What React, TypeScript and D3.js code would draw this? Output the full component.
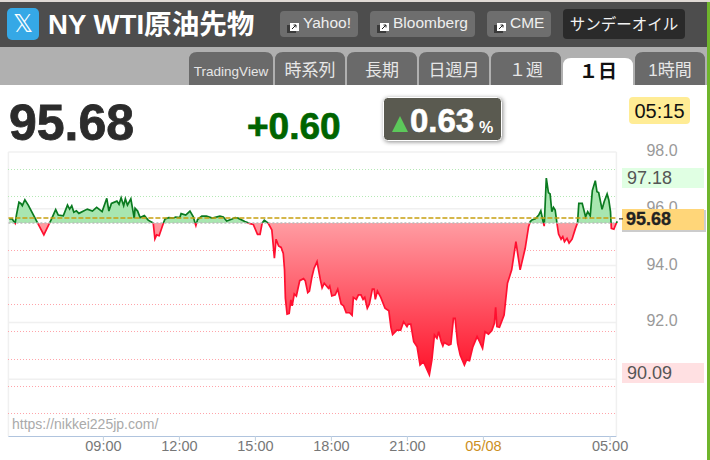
import React from 'react';
import * as d3 from 'd3';

// minutes since 00:00 on 05/07
const minutes = [
  317, 324, 331, 334, 340, 345, 348, 354, 362, 399, 417, 427, 433, 445, 455, 460, 465, 470, 476, 482,
  502, 514, 524, 537, 548, 553, 559, 572, 577, 582, 588, 592, 597, 605, 613, 615, 621, 627, 637, 646,
  658, 662, 666, 672, 682, 686, 695, 705, 711, 721, 724, 735, 745, 753, 757, 759, 763, 773, 784, 798,
  816, 824, 832, 845, 852, 859, 875, 887, 895, 905, 911, 916, 921, 930, 937, 939, 945, 949, 955, 961,
  966, 969, 971, 975, 980, 984, 987, 992, 997, 1005, 1014, 1018, 1024, 1028, 1034, 1039, 1046, 1054, 1058, 1063,
  1073, 1076, 1081, 1089, 1095, 1103, 1109, 1115, 1123, 1129, 1132, 1139, 1144, 1150, 1155, 1159, 1165, 1170, 1177, 1181,
  1184, 1189, 1197, 1207, 1216, 1221, 1225, 1235, 1244, 1251, 1259, 1262, 1268, 1275, 1283, 1290, 1298, 1312, 1318, 1324,
  1330, 1334, 1340, 1344, 1347, 1358, 1363, 1369, 1373, 1379, 1385, 1395, 1400, 1407, 1415, 1425, 1431, 1438, 1444, 1452,
  1460, 1466, 1469, 1472, 1478, 1489, 1497, 1507, 1517, 1527, 1539, 1547, 1551, 1555, 1563, 1571, 1576, 1582, 1584, 1589,
  1594, 1598, 1602, 1606, 1610, 1614, 1618, 1624, 1628, 1632, 1638, 1643, 1650, 1658, 1663, 1666, 1674, 1682, 1687, 1693,
  1698, 1705, 1709, 1713, 1721, 1726, 1733, 1737, 1741, 1743, 1749, 1753, 1757,
];

const prices = [
  95.64, 95.64, 95.49, 95.78, 96.23, 96.18, 96.11, 96.32, 96.13, 95.08, 95.64, 95.97, 95.78, 95.75, 96.13, 95.99, 96.11, 95.88, 95.93, 95.84,
  95.99, 95.92, 96.05, 95.9, 96.37, 95.92, 96.19, 96.27, 96.16, 96.39, 96.11, 96.35, 96.13, 96.35, 95.67, 96.02, 95.92, 95.69, 95.76, 95.6,
  95.5, 94.94, 95.08, 95.05, 95.49, 95.64, 95.69, 95.67, 95.71, 95.69, 95.83, 95.78, 95.92, 95.72, 95.5, 95.41, 95.62, 95.74, 95.74, 95.67,
  95.74, 95.71, 95.57, 95.64, 95.69, 95.67, 95.55, 95.48, 95.45, 95.1, 95.1, 95.5, 95.6, 95.5, 95.31, 95.25, 94.26, 94.93, 94.69, 94.64,
  94.43, 93.85, 92.85, 92.29, 92.32, 92.79, 92.58, 93.0, 92.93, 93.47, 93.54, 93.47, 93.05, 93.1, 93.61, 93.91, 94.14, 93.49, 93.22, 93.38,
  93.2, 93.28, 92.93, 92.97, 93.17, 92.65, 92.58, 92.34, 92.34, 92.25, 92.88, 92.81, 92.97, 92.97, 92.81, 92.88, 92.5, 92.65, 93.17, 93.17,
  92.81, 93.1, 92.88, 92.5, 92.41, 91.83, 91.57, 91.73, 91.73, 92.02, 91.85, 91.94, 91.94, 91.32, 91.14, 90.5, 90.62, 90.15, 90.68, 91.56,
  91.44, 91.67, 91.32, 91.17, 91.29, 91.2, 91.23, 92.14, 92.14, 91.26, 90.85, 90.5, 90.68, 90.65, 91.14, 91.5, 91.32, 91.09, 91.67, 91.59,
  91.71, 91.97, 92.53, 91.85, 91.83, 92.26, 93.38, 93.85, 94.84, 93.85, 94.61, 95.37, 95.55, 95.61, 95.65, 95.78, 95.93, 95.51, 95.39, 97.08,
  96.57, 96.52, 95.9, 96.05, 95.96, 95.51, 95.11, 94.93, 95.02, 94.84, 94.96, 94.79, 94.93, 95.31, 95.51, 96.19, 96.19, 95.72, 95.9, 95.75,
  96.64, 96.99, 96.6, 96.57, 95.98, 96.25, 96.52, 96.31, 95.9, 95.31, 95.28, 95.43, 95.56,
];

const baseline = 95.5;
const current = 95.68;
const gridValues = [98, 96, 94, 92, 90];
const yLabels = ['98.0', '96.0', '94.0', '92.0'];
const percentUp = [1, 2];
const percentDown = [1, 2, 3, 4, 5, 6, 7];
const timeTicks = [540, 720, 900, 1080, 1260, 1440, 1740];
const timeLabels = ['09:00', '12:00', '15:00', '18:00', '21:00', '05/08', '05:00'];
const linkButtons = [
  { label: 'Yahoo!', x0: 280, x1: 358 },
  { label: 'Bloomberg', x0: 370, x1: 475 },
  { label: 'CME', x0: 487, x1: 551 },
];
const tabs = [
  { label: 'TradingView', x0: 189, x1: 273, size: 13.5 },
  { label: '時系列', x0: 275, x1: 345, size: 17 },
  { label: '長期', x0: 347, x1: 417, size: 17 },
  { label: '日週月', x0: 419, x1: 489, size: 17 },
  { label: '１週', x0: 491, x1: 561, size: 17 },
  { label: '１日', x0: 563, x1: 633, size: 19, active: true },
  { label: '1時間', x0: 635, x1: 705, size: 17 },
];

const sans = '"Liberation Sans", "Noto Sans CJK JP", sans-serif';

export default function App() {
  const x = d3.scaleLinear().domain([315, 1755]).range([8.4, 616.4]);
  const y = d3.scaleLinear().domain([98, 88]).range([152, 436]);
  const idx = d3.range(minutes.length);
  const yBase = y(baseline);

  const area = d3.area<number>()
    .x(i => x(minutes[i]))
    .y0(yBase)
    .y1(i => y(prices[i]));
  const line = d3.line<number>()
    .x(i => x(minutes[i]))
    .y(i => y(prices[i]));

  const left = x(315);
  const right = x(1755);

  return (
    <svg width={710} height={460} style={{ position: 'absolute', left: 0, top: 0, display: 'block' }} fontFamily={sans}>
      <defs>
        <linearGradient id="redFill" gradientUnits="userSpaceOnUse" x1={0} x2={0} y1={yBase} y2={y(90.09)}>
          <stop offset="0%" stopColor="#ff9ca2" />
          <stop offset="100%" stopColor="#ff1028" />
        </linearGradient>
        <clipPath id="above"><rect x={0} y={0} width={710} height={yBase} /></clipPath>
        <clipPath id="below"><rect x={0} y={yBase} width={710} height={460 - yBase} /></clipPath>
      </defs>

      <rect width={710} height={460} fill="#fff" />

      {/* header */}
      <rect width={710} height={3} fill="#e0dad5" />
      <rect x={0} y={2} width={707} height={45} fill="#4d4d4d" />
      <rect x={0} y={47} width={707} height={38} fill="#b0b0b0" />
      <rect x={707} y={2} width={3} height={458} fill="#6fb52c" />

      <rect x={7} y={8} width={32} height={32} rx={5} fill="#35a8e6" />
      <text x={23} y={32} textAnchor="middle" fontSize={25} fill="#fff" fontFamily="DejaVu Sans">𝕏</text>
      <text x={48} y={34} fontSize={27.6} fontWeight="bold" fill="#fff">NY WTI原油先物</text>

      {linkButtons.map(b => (
        <g key={b.label}>
          <rect x={b.x0} y={11} width={b.x1 - b.x0} height={26} rx={4} fill="#6e6e6e" />
          <rect x={b.x0 + 7} y={25} width={9} height={8} fill="#3a3a3a" />
          <rect x={b.x0 + 10} y={23} width={9} height={8} fill="#fff" />
          <path d={`M${b.x0 + 12} ${29}l4-4m-2.5 0h2.5v2.5`} stroke="#222" fill="none" />
          <text x={b.x0 + 23} y={28} fontSize={15.5} fill="#eee">{b.label}</text>
        </g>
      ))}
      <rect x={563} y={9} width={122} height={30} rx={4} fill="#2a2a2a" />
      <text x={624} y={29.5} textAnchor="middle" fontSize={15.5} fill="#f2f2f2">サンデーオイル</text>

      {tabs.map(t => {
        const top = t.active ? 58 : 52;
        const bottom = 85;
        return (
          <g key={t.label}>
            <path
              d={`M${t.x0} ${bottom}V${top + 8}Q${t.x0} ${top} ${t.x0 + 8} ${top}H${t.x1 - 8}Q${t.x1} ${top} ${t.x1} ${top + 8}V${bottom}Z`}
              fill={t.active ? '#fff' : '#6a6a6a'}
            />
            <text
              x={(t.x0 + t.x1) / 2}
              y={t.active ? 78 : 76}
              textAnchor="middle"
              fontSize={t.size}
              fontWeight={t.active ? 'bold' : 'normal'}
              fill={t.active ? '#111' : '#e6e6e6'}
            >
              {t.label}
            </text>
          </g>
        );
      })}

      {/* price summary */}
      <text x={9} y={140} fontSize={50} fontWeight="bold" fill="#2b2b2b" stroke="#2b2b2b" strokeWidth={0.8}>95.68</text>
      <text x={247} y={139} fontSize={37} fontWeight="bold" fill="#006400" stroke="#006400" strokeWidth={0.7}>+0.60</text>
      <rect x={383.5} y={97.5} width={118} height={43} rx={4} fill="#5a5a50" stroke="#fff" strokeWidth={1} style={{ filter: 'drop-shadow(1px 1px 2px rgba(0,0,0,0.45))' }} />
      <path d="M392 132L400 116L408 132Z" fill="#5cc85a" />
      <text x={410} y={132} fontSize={33} fontWeight="bold" fill="#fff" stroke="#fff" strokeWidth={0.6}>0.63</text>
      <text x={479} y={133} fontSize={16} fontWeight="bold" fill="#fff">%</text>
      <rect x={629} y={97} width={61} height={27} rx={4} fill="#ffec95" />
      <text x={659.5} y={118} textAnchor="middle" fontSize={20} fill="#111">05:15</text>

      {/* grid */}
      {gridValues.map(v => (
        <line key={v} x1={left} x2={right} y1={y(v)} y2={y(v)} stroke="#f0f0f0" strokeWidth={1.5} />
      ))}
      <line x1={left} x2={left} y1={152} y2={436} stroke="#f0f0f0" strokeWidth={1.5} />
      <line x1={right} x2={right} y1={152} y2={436} stroke="#f0f0f0" strokeWidth={1.5} />
      {percentUp.map(p => {
        const py = Math.round(y(baseline * (1 + p / 100))) + 0.5;
        return <line key={p} x1={left} x2={right} y1={py} y2={py} stroke="#b4e8b4" strokeDasharray="1 2" shapeRendering="crispEdges" />;
      })}
      {percentDown.map(p => {
        const py = Math.round(y(baseline * (1 - p / 100))) + 0.5;
        return <line key={p} x1={left} x2={right} y1={py} y2={py} stroke="#ffa4aa" strokeDasharray="1 2" shapeRendering="crispEdges" />;
      })}

      {/* price area */}
      <path d={area(idx) ?? ''} fill="#a8e6b0" clipPath="url(#above)" />
      <path d={area(idx) ?? ''} fill="url(#redFill)" clipPath="url(#below)" />
      <path d={line(idx) ?? ''} fill="none" stroke="#0a7a20" strokeWidth={1.7} clipPath="url(#above)" />
      <path d={line(idx) ?? ''} fill="none" stroke="#ff1030" strokeWidth={1.7} clipPath="url(#below)" />
      <line x1={left} x2={right} y1={yBase} y2={yBase} stroke="#bbb" strokeWidth={1.5} strokeDasharray="2 2" />
      <line x1={left} x2={right} y1={y(current)} y2={y(current)} stroke="#c8a010" strokeWidth={1.5} strokeDasharray="5 2" />

      <text x={12} y={429} fontSize={14} fill="#aaa">https://nikkei225jp.com/</text>

      {/* x axis */}
      <line x1={left} x2={right} y1={436.5} y2={436.5} stroke="#b0c4de" strokeWidth={1.2} />
      {timeTicks.map((t, i) => (
        <g key={t}>
          <line x1={x(t)} x2={x(t)} y1={436} y2={441} stroke="#c0d0e0" />
          <text
            x={x(t)}
            y={451}
            textAnchor="middle"
            fontSize={14.5}
            fill={timeLabels[i] === '05/08' ? '#cc8f1e' : '#777'}
          >
            {timeLabels[i]}
          </text>
        </g>
      ))}

      {/* y labels */}
      {yLabels.map(l => (
        <text key={l} x={662} y={y(+l) + 4} textAnchor="middle" fontSize={16} fill="#999">{l}</text>
      ))}
      <rect x={622} y={168} width={82} height={20} fill="#e0ffe3" />
      <text x={627} y={184} fontSize={18} fill="#555">97.18</text>
      <rect x={622} y={363} width={82} height={20} fill="#ffe0e2" />
      <text x={627} y={379} fontSize={18} fill="#555">90.09</text>
      <rect x={622} y={210} width={84} height={22} fill="#ccc" />
      <rect x={622} y={209} width={82} height={21} fill="#ffd679" />
      <line x1={619} x2={623} y1={y(current) + 1} y2={y(current) + 1} stroke="#111" />
      <text x={626} y={225} fontSize={18} fontWeight="bold" fill="#222" stroke="#222" strokeWidth={0.3}>95.68</text>
    </svg>
  );
}
